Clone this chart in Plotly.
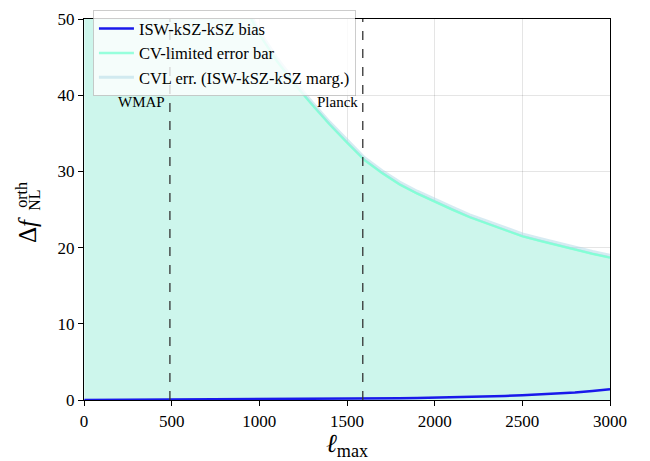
import plotly.graph_objects as go

# ---- data ----
ell = [2, 100, 200, 300, 400, 500, 600, 700, 800, 900, 1000, 1100, 1200, 1300, 1400, 1500,
       1600, 1700, 1800, 1900, 2000, 2100, 2200, 2300, 2400, 2500, 2600, 2700, 2800, 2900, 3000]
cv_err = [2000, 400, 220, 150, 115, 95, 80, 68, 58, 52.5, 48.0, 44.5, 41.5, 38.8, 36.2, 33.8,
          31.5, 29.8, 28.3, 27.1, 26.0, 25.0, 24.0, 23.2, 22.3, 21.5, 20.9, 20.3, 19.7, 19.2, 18.7]
cvl_err = [2010, 402, 221, 151, 116, 96, 80.6, 68.5, 58.4, 52.9, 48.4, 44.9, 41.9, 39.1, 36.5, 34.1,
           31.8, 30.1, 28.6, 27.4, 26.3, 25.3, 24.3, 23.5, 22.6, 21.8, 21.2, 20.6, 20.0, 19.5, 19.0]
bias = [0.0, 0.01, 0.015, 0.02, 0.025, 0.03, 0.035, 0.04, 0.05, 0.06, 0.07, 0.08, 0.09, 0.11, 0.13, 0.15,
        0.17, 0.2, 0.23, 0.27, 0.31, 0.36, 0.41, 0.47, 0.54, 0.62, 0.72, 0.84, 0.99, 1.17, 1.4]
experiments = ["WMAP", "Planck"]
exp_ell = [490, 1590]
label_y = 39.1

SERIF = "Liberation Serif, DejaVu Serif, serif"

fig = go.Figure()
fig.add_trace(go.Scatter(x=ell, y=cv_err, mode="lines", fill="tozeroy",
                         fillcolor="rgb(205,246,236)",
                         line=dict(color="rgba(127,255,212,0.85)", width=2),
                         showlegend=False, hoverinfo="skip"))
fig.add_trace(go.Scatter(x=ell, y=bias, mode="lines", name="ISW-kSZ-kSZ bias",
                         line=dict(color="rgb(25,25,235)", width=2.5)))
fig.add_trace(go.Scatter(x=ell, y=cv_err, mode="lines", name="CV-limited error bar",
                         line=dict(color="rgba(127,255,212,0.8)", width=2.5)))
fig.add_trace(go.Scatter(x=ell, y=cvl_err, mode="lines", name="CVL err. (ISW-kSZ-kSZ marg.)",
                         line=dict(color="rgba(173,216,230,0.5)", width=3)))

for name, xv in zip(experiments, exp_ell):
    fig.add_shape(type="line", x0=xv, x1=xv, y0=0, y1=1, xref="x", yref="paper",
                  line=dict(color="#333333", width=1.3, dash="dash"))
    fig.add_annotation(x=xv, y=label_y, xref="x", yref="y", text=name, showarrow=False,
                       xanchor="right", yanchor="middle", xshift=-3,
                       font=dict(family=SERIF, size=15, color="black"))

# y-axis title pieces (Δf with stacked sup/sub)
fig.add_annotation(x=(27 - 84) / 526, y=(400 - 226) / 390, xref="paper", yref="paper",
                   text="Δ<i>f</i>", textangle=-90, showarrow=False,
                   xanchor="center", yanchor="middle",
                   font=dict(family=SERIF, size=25, color="black"))
fig.add_annotation(x=(22 - 84) / 526, y=(400 - 190) / 390, xref="paper", yref="paper",
                   text="orth", textangle=-90, showarrow=False,
                   xanchor="center", yanchor="middle",
                   font=dict(family=SERIF, size=16, color="black"))
fig.add_annotation(x=(35 - 84) / 526, y=(400 - 196) / 390, xref="paper", yref="paper",
                   text="NL", textangle=-90, showarrow=False,
                   xanchor="center", yanchor="middle",
                   font=dict(family=SERIF, size=16, color="black"))

axis_common = dict(showline=True, linecolor="black", linewidth=1.3, mirror=True,
                   ticks="outside", ticklen=5, tickwidth=1.2, tickcolor="black",
                   showgrid=True, gridcolor="rgba(0,0,0,0.1)", gridwidth=1,
                   zeroline=False, tickfont=dict(family=SERIF, size=17, color="black"))

fig.update_layout(
    width=650, height=461,
    margin=dict(l=84, r=40, t=10, b=61),
    plot_bgcolor="white", paper_bgcolor="white",
    xaxis=dict(range=[0, 3000], tickvals=[0, 500, 1000, 1500, 2000, 2500, 3000],
               title=dict(text="<i>ℓ</i><sub>max</sub>", font=dict(family=SERIF, size=26, color="black"),
                          standoff=0),
               **axis_common),
    yaxis=dict(range=[0, 50], tickvals=[0, 10, 20, 30, 40, 50], **axis_common),
    legend=dict(x=0.017, y=1.023, xanchor="left", yanchor="top",
                bgcolor="rgba(255,255,255,0.8)", bordercolor="rgba(0,0,0,0.2)", borderwidth=1,
                font=dict(family=SERIF, size=16.5, color="black"),
                tracegroupgap=0, itemwidth=35),
    showlegend=True,
)

fig.write_html("out.html", config={"displayModeBar": False},
               post_script="document.body.style.margin='0px';")
